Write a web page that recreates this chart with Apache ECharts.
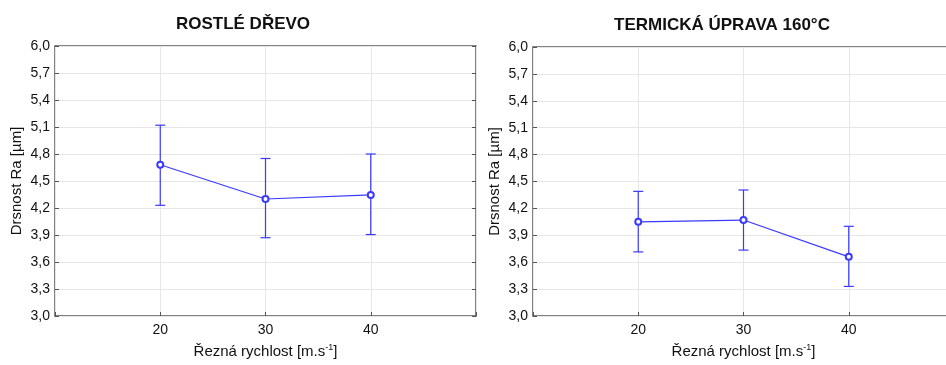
<!DOCTYPE html>
<html>
<head>
<meta charset="utf-8">
<script src="https://cdn.jsdelivr.net/npm/echarts@6/dist/echarts.min.js"></script>
<style>
html,body{margin:0;padding:0;background:#fff;}
#c{width:946px;height:365px;}
</style>
</head>
<body>
<div id="c"></div>
<script>
// Data
const speeds = [20, 30, 40];
const rawMean = [4.68, 4.30, 4.345];
const rawLow = [4.23, 3.87, 3.905];
const rawHigh = [5.12, 4.75, 4.80];
const thermMean = [4.05, 4.07, 3.66];
const thermLow = [3.715, 3.735, 3.33];
const thermHigh = [4.39, 4.405, 4.00];
const titles = ['ROSTLÉ DŘEVO', 'TERMICKÁ ÚPRAVA 160°C'];
const yName = 'Drsnost Ra [µm]';

const BLUE = '#3a3aff';
const FONT = '"Liberation Sans", Arial, sans-serif';

function pts(xs, ys) { return xs.map((x, i) => [x, ys[i]]); }
function bars(xs, lo, hi) { return xs.map((x, i) => [x, lo[i], hi[i]]); }

function errRender(params, api) {
  const x = api.value(0);
  const lo = api.coord([x, api.value(1)]);
  const hi = api.coord([x, api.value(2)]);
  const w = 5;
  const st = { stroke: BLUE, lineWidth: 1.2 };
  return {
    type: 'group',
    children: [
      { type: 'line', shape: { x1: lo[0], y1: lo[1], x2: hi[0], y2: hi[1] }, style: st },
      { type: 'line', shape: { x1: lo[0] - w, y1: lo[1], x2: lo[0] + w, y2: lo[1] }, style: st },
      { type: 'line', shape: { x1: hi[0] - w, y1: hi[1], x2: hi[0] + w, y2: hi[1] }, style: st }
    ]
  };
}

const grids = [
  { left: 55, top: 46, width: 421, height: 270 },
  { left: 533, top: 47, width: 421, height: 269 }
];

function xAxis(gi) {
  return {
    type: 'value', gridIndex: gi, min: 10, max: 50, interval: 10,
    name: 'Řezná rychlost [m.s{sup|-1}]',
    nameLocation: 'middle', nameGap: 27,
    nameTextStyle: {
      fontFamily: FONT, fontSize: 15, color: '#111',
      rich: { sup: { fontSize: 9, verticalAlign: 'top', padding: [0, 0, 8, 0], fontFamily: FONT, color: '#111' } }
    },
    axisLine: { show: false },
    axisTick: { show: true, inside: true, length: 4, lineStyle: { color: '#555' } },
    axisLabel: {
      fontFamily: FONT, fontSize: 14, color: '#111', margin: 7,
      formatter: v => (v === 10 || v === 50) ? '' : String(v)
    },
    splitLine: { show: true, lineStyle: { color: '#e6e6e6', width: 1 } }
  };
}
function yAxis(gi) {
  return {
    type: 'value', gridIndex: gi, min: 3, max: 6, interval: 0.3,
    name: yName, nameLocation: 'middle', nameGap: 31, nameRotate: 90,
    nameTextStyle: { fontFamily: FONT, fontSize: 15, color: '#111' },
    axisLine: { show: false },
    axisTick: { show: true, inside: true, length: 4, lineStyle: { color: '#555' } },
    axisLabel: {
      fontFamily: FONT, fontSize: 14, color: '#111', margin: 5,
      formatter: v => v.toFixed(1).replace('.', ',')
    },
    splitLine: { show: true, lineStyle: { color: '#e6e6e6', width: 1 } }
  };
}
function yAxisRight(gi) {
  return {
    type: 'value', gridIndex: gi, min: 3, max: 6, interval: 0.3, position: 'right',
    axisLine: { show: false },
    axisTick: { show: true, inside: true, length: 4, lineStyle: { color: '#555' } },
    axisLabel: { show: false },
    splitLine: { show: false }
  };
}

const option = {
  animation: false,
  backgroundColor: '#fff',
  title: [
    { text: titles[0], left: 238, top: 11, textAlign: 'center',
      textStyle: { fontFamily: FONT, fontSize: 17, fontWeight: 'bold', color: '#111' } },
    { text: titles[1], left: 717, top: 12, textAlign: 'center',
      textStyle: { fontFamily: FONT, fontSize: 17, fontWeight: 'bold', color: '#111' } }
  ],
  grid: grids.map(g => Object.assign({ show: true, borderColor: '#5a5a5a', borderWidth: 1.5, backgroundColor: '#fff', outerBoundsMode: 'none', containLabel: false }, g)),
  xAxis: [xAxis(0), xAxis(1)],
  yAxis: [yAxis(0), yAxis(1), yAxisRight(0), yAxisRight(1)],
  series: [
    { type: 'custom', xAxisIndex: 0, yAxisIndex: 0, renderItem: errRender, data: bars(speeds, rawLow, rawHigh), silent: true, z: 2 },
    { type: 'line', xAxisIndex: 0, yAxisIndex: 0, data: pts(speeds, rawMean), symbol: 'emptyCircle', symbolSize: 6,
      lineStyle: { color: BLUE, width: 1.2 }, itemStyle: { color: BLUE, borderWidth: 1.3 }, z: 3 },
    { type: 'custom', xAxisIndex: 1, yAxisIndex: 1, renderItem: errRender, data: bars(speeds, thermLow, thermHigh), silent: true, z: 2 },
    { type: 'line', xAxisIndex: 1, yAxisIndex: 1, data: pts(speeds, thermMean), symbol: 'emptyCircle', symbolSize: 6,
      lineStyle: { color: BLUE, width: 1.2 }, itemStyle: { color: BLUE, borderWidth: 1.3 }, z: 3 }
  ]
};
echarts.init(document.getElementById('c'), null, { renderer: 'canvas' }).setOption(option);
</script>
</body>
</html>
